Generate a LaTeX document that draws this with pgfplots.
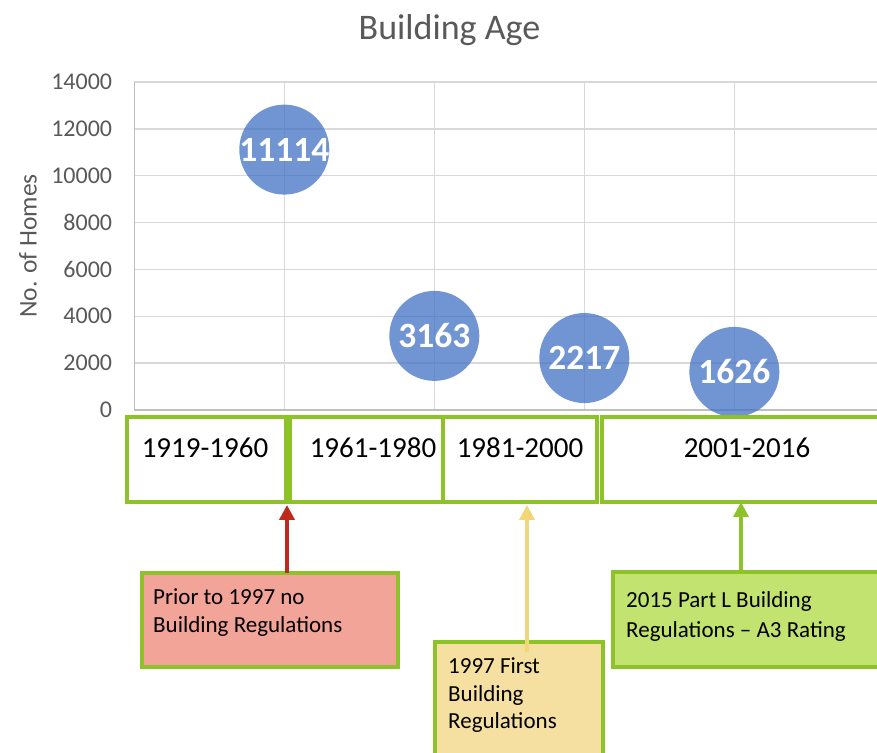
\documentclass[border=0pt]{standalone}
\usepackage{pgfplots}
\pgfplotsset{compat=1.18}
\usepackage{fontspec}
\setmainfont{Carlito}
\usetikzlibrary{arrows.meta,shadows}
\definecolor{bubble}{RGB}{68,114,196}
\definecolor{boxgreen}{RGB}{141,194,41}
\definecolor{redfill}{RGB}{242,164,152}
\definecolor{yellowfill}{RGB}{245,224,161}
\definecolor{greenfill}{RGB}{194,227,112}
\definecolor{redarrow}{RGB}{192,40,28}
\definecolor{yellowarrow}{RGB}{242,214,120}
\definecolor{txtgray}{RGB}{89,89,89}
\definecolor{gridgray}{RGB}{217,217,217}
\definecolor{axisgray}{RGB}{191,191,191}
\begin{document}
\begin{tikzpicture}[x=1pt,y=1pt]
\path[use as bounding box] (0,0) rectangle (877,752);
\clip (0,0) rectangle (877,752);
\begin{axis}[
  at={(134.3pt,342pt)}, anchor=south west,
  scale only axis, width=742.7pt, height=328pt,
  xmin=0, xmax=4.951, ymin=0, ymax=14000,
  axis x line*=bottom, axis y line*=left,
  axis line style={axisgray, line width=1.3pt, -},
  xtick={1,2,3,4}, xticklabels={},
  ytick={0,2000,...,14000},
  scaled y ticks=false,
  major tick length=0pt,
  grid=major, grid style={gridgray, line width=1.4pt},
  /pgf/number format/assume math mode=true,
  /pgf/number format/1000 sep={},
  yticklabel style={font=\fontsize{24}{28}\selectfont, text=txtgray, inner sep=0pt, xshift=-22pt},
  ylabel={No. of Homes},
  ylabel style={at={(axis description cs:-0.143,0.5)}, anchor=center, font=\fontsize{25.5}{30}\selectfont, text=txtgray},
  title={Building Age},
  title style={at={(axis description cs:0.4244,1.11)}, anchor=base, font=\fontsize{36}{43}\selectfont, text=txtgray},
  clip=false,
  point meta=explicit symbolic,
  nodes near coords,
  every node near coord/.append style={anchor=center, text=white, opacity=1, text opacity=1, font=\bfseries\fontsize{35.5}{42}\selectfont},
]
\addplot[color=bubble, only marks, mark=*, mark size=45pt, mark options={fill=bubble, draw opacity=0, fill opacity=0.76}]
  table[meta=label] {
  x y label
  1 11114 11114
  2 3163 3163
  3 2217 2217
  4 1626 1626
  };
\end{axis}
% category boxes
\begin{scope}[boxgreen, line width=3.5pt]
\draw (127,335) rectangle (286,250);
\draw (290,335) rectangle (443,250);
\draw (443,335) rectangle (597,250);
\draw (602,335) rectangle (905,250);
\end{scope}
\begin{scope}[every node/.style={anchor=base, font=\fontsize{29}{34}\selectfont, text=black, inner sep=0pt}]
\node at (205,294) {1919-1960};
\node at (373,294) {1961-1980};
\node at (520,294) {1981-2000};
\node at (747,294) {2001-2016};
\end{scope}
% annotation boxes
\begin{scope}[line width=3.5pt, draw=boxgreen, drop shadow={shadow xshift=2pt, shadow yshift=-5pt, opacity=0.3, fill=black!60}]
\filldraw[fill=redfill] (142,179) rectangle (398,85);
\filldraw[fill=yellowfill] (435,110) rectangle (603,-20);
\filldraw[fill=greenfill] (613,180) rectangle (905,85);
\end{scope}
\begin{scope}[every node/.style={anchor=base west, font=\fontsize{23}{27}\selectfont, text=black, inner sep=0pt}]
\node at (153,147) {Prior to 1997 no};
\node at (153,120) {Building Regulations};
\node at (448,79) {1997 First};
\node at (448,51) {Building};
\node at (448,24) {Regulations};
\node at (626,144) {2015 Part L Building};
\node at (626,115) {Regulations – A3 Rating};
\end{scope}
% arrows
\draw[redarrow, line width=3.8pt, -{Triangle[width=15pt,length=15pt]}] (287,179) -- (287,247);
\draw[yellowarrow, line width=3.5pt, -{Triangle[width=15pt,length=15pt]}] (527,100) -- (527,247);
\draw[boxgreen, line width=3.5pt, -{Triangle[width=15pt,length=15pt]}] (741,180) -- (741,250);
\end{tikzpicture}
\end{document}
